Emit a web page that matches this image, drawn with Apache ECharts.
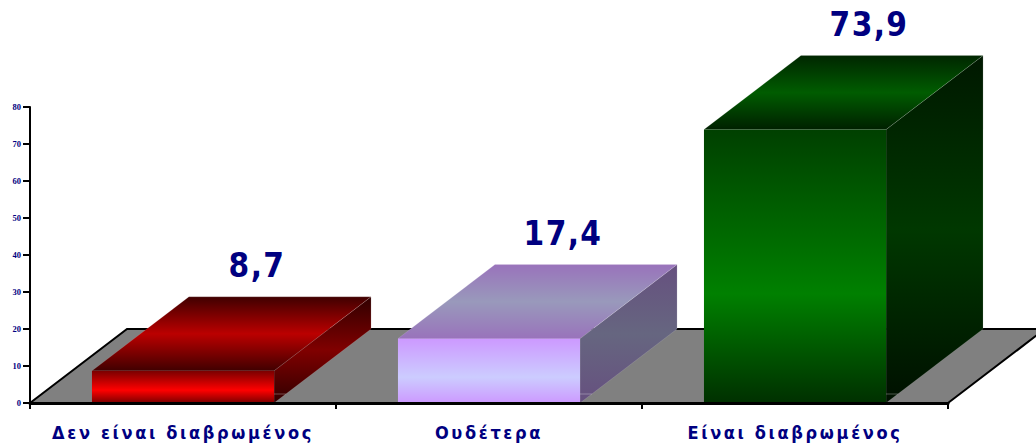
<!DOCTYPE html>
<html><head><meta charset="utf-8">
<style>
html,body{margin:0;padding:0;background:#fff;overflow:hidden}
#c{width:1036px;height:446px}
#c text[style*="18px"]{letter-spacing:2.65px}
#c text[style*="33px"]{letter-spacing:1.4px}
</style>
<script src="https://cdn.jsdelivr.net/npm/echarts@6/dist/echarts.min.js"></script>
</head><body><div id="c"></div>
<script>
const categories = ['Δεν είναι διαβρωμένος', 'Ουδέτερα', 'Είναι διαβρωμένος'];
const values = [8.7, 17.4, 73.9];
const yTicks = {min: 0, max: 80, interval: 10};
const floorLevel = 20;
const depthX = 97, depthY = 74, barShare = 0.595;
const frontColors = [['#7a0000','#ff0000','#7a0000'],['#cc99ff','#ccccff','#cc99ff'],['#004000','#008000','#003000']];
const topColors = [['#400000','#bb0000','#400000'],['#9973bb','#9999bb','#9973bb'],['#002600','#005c00','#002000']];
const sideColors = [['#300000','#800000','#300000'],['#66507f','#666680','#66507f'],['#001800','#003800','#001000']];
const NAVY = '#000080', FAMILY = 'DejaVu Sans Condensed';

const grad = (c, p = 0.5) => ({type: 'linear', x: 0, y: 0, x2: 0, y2: 1, colorStops: [
  {offset: 0, color: c[0]}, {offset: p, color: c[1]}, {offset: 1, color: c[2]}]});
const edge = {stroke: 'rgba(255,255,255,0.2)', lineWidth: 0.6};

function renderFloor(params, api) {
  const cs = params.coordSys;
  const y0 = api.coord([0, 0])[1];
  const yb = api.coord([0, floorLevel])[1];
  const dx = (y0 - yb) * depthX / depthY;
  const x0 = cs.x, x1 = cs.x + cs.width;
  return {type: 'group', children: [
    {type: 'polygon', shape: {points: [[x0, y0], [x0 + dx, yb], [x1 + dx, yb], [x1, y0]]}, style: {fill: '#808080'}},
    {type: 'polyline', shape: {points: [[x0, y0], [x0 + dx, yb], [x1 + dx, yb], [x1, y0]]},
     style: {fill: 'none', stroke: '#000', lineWidth: 2}}
  ]};
}
function renderBar(params, api) {
  const i = api.value(0), v = api.value(1);
  const c = api.coord([i, v]), b = api.coord([i, 0]);
  const w = api.size([1, 0])[0] * barShare;
  const l = c[0] - w / 2, r = c[0] + w / 2, t = c[1], y0 = b[1];
  const inner = y0 - 9;
  return {type: 'group', children: [
    {type: 'polygon', shape: {points: [[r, t], [r + depthX, t - depthY], [r + depthX, y0 - depthY], [r, y0]]},
     style: Object.assign({fill: grad(sideColors[i])}, edge)},
    {type: 'line', shape: {x1: r, y1: inner, x2: r + 9 * depthX / depthY, y2: inner},
     style: {stroke: 'rgba(255,255,255,0.3)', lineWidth: 1}},
    {type: 'polygon', shape: {points: [[l, t], [l + depthX, t - depthY], [r + depthX, t - depthY], [r, t]]},
     style: Object.assign({fill: grad(topColors[i])}, edge)},
    {type: 'rect', shape: {x: l, y: t, width: w, height: y0 - t}, style: {fill: grad(frontColors[i], 0.6)}},
    {type: 'text', x: c[0] + 74, y: t - depthY - 31,
     style: {text: String(v).replace('.', ','), fill: NAVY, font: 'bold 33px "' + FAMILY + '"', align: 'center', verticalAlign: 'middle'}}
  ]};
}
const chart = echarts.init(document.getElementById('c'), null, {renderer: 'svg'});
chart.setOption({
  animation: false,
  backgroundColor: '#fff',
  grid: {left: 30, top: 107, width: 918, height: 296, containLabel: false},
  xAxis: {type: 'category', data: categories, z: 5,
    axisLine: {show: true, lineStyle: {color: '#000', width: 3}},
    axisTick: {show: true, length: 6, lineStyle: {color: '#000', width: 2}},
    axisLabel: {color: NAVY, fontFamily: FAMILY, fontWeight: 'bold', fontSize: 18, margin: 20, interval: 0},
    splitLine: {show: false}},
  yAxis: {type: 'value', min: yTicks.min, max: yTicks.max, interval: yTicks.interval, z: 5,
    axisLine: {show: true, onZero: false, lineStyle: {color: '#000', width: 2}},
    axisTick: {show: true, length: 7, lineStyle: {color: '#000', width: 2}},
    axisLabel: {color: '#000080', fontFamily: 'Liberation Serif', fontWeight: 'bold', fontSize: 8.5, margin: 9},
    splitLine: {show: false}},
  series: [
    {type: 'custom', z: 1, silent: true, renderItem: renderFloor, data: [[0, 0]], encode: {x: 0, y: 1}},
    {type: 'custom', z: 2, silent: true, renderItem: renderBar, data: values.map((v, i) => [i, v]), encode: {x: 0, y: 1}}
  ]
});
</script></body></html>
